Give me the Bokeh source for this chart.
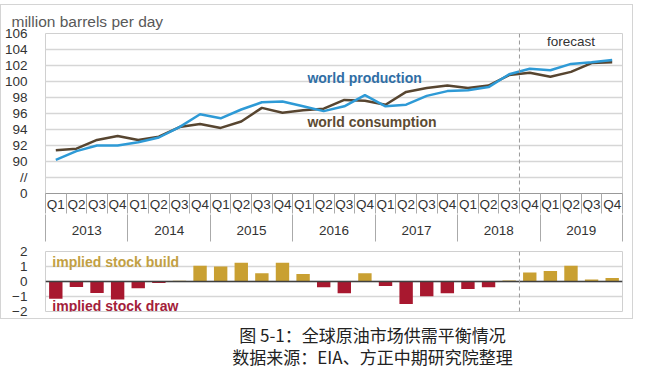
from bokeh.plotting import figure
from bokeh.models import Range1d, FixedTicker, LinearAxis, Span, ColumnDataSource, Label
from bokeh.layouts import column
from bokeh.embed import file_html
from bokeh.resources import INLINE

# ---------------- data ----------------
years = ["2013", "2014", "2015", "2016", "2017", "2018", "2019"]
quarters = ["Q1", "Q2", "Q3", "Q4"]
forecast_start = ("2018", "Q4")

production = [90.2, 91.3, 92.0, 92.0, 92.4, 93.0, 94.3, 95.9,
              95.4, 96.5, 97.4, 97.5, 96.9, 96.3, 96.9, 98.3,
              96.9, 97.1, 98.2, 98.8, 98.9, 99.3, 100.9, 101.6,
              101.4, 102.2, 102.4, 102.7]
consumption = [91.4, 91.6, 92.7, 93.2, 92.7, 93.1, 94.3, 94.7,
               94.2, 95.0, 96.7, 96.1, 96.4, 96.6, 97.7, 97.6,
               97.1, 98.7, 99.2, 99.5, 99.2, 99.5, 100.8, 101.1,
               100.6, 101.2, 102.3, 102.4]
stock_change = [-1.15, -0.37, -0.77, -1.2, -0.45, -0.1, 0.05, 1.05,
                1.0, 1.25, 0.55, 1.25, 0.5, -0.38, -0.78, 0.55,
                -0.3, -1.5, -0.98, -0.78, -0.5, -0.38, 0.07, 0.6,
                0.7, 1.05, 0.13, 0.24]

y_tick_labels = ["0", "//", "90", "92", "94", "96", "98", "100", "102", "104", "106"]
bar_ticks = [-2, -1, 0, 1, 2]

unit_title = "million barrels per day"
caption1 = "图 5-1：全球原油市场供需平衡情况"
caption2 = "数据来源：EIA、方正中期研究院整理"

# ---------------- styles ----------------
FONT = "Liberation Sans"
BLUE = "#2E9AD6"
BROWN = "#574530"
GOLD = "#C9A032"
CRIMSON = "#A8182F"
GRID = "#d6d6d6"
TXT = "#333333"
BOX = "#d4d4d4"

periods = [(y, q) for y in years for q in quarters]
n = len(periods)
xc = [i + 0.5 for i in range(n)]
fc_idx = periods.index(forecast_start)

# ---------------- top chart ----------------
ybase = 86
ypos = [ybase + 2 * i for i in range(len(y_tick_labels))]

p = figure(width=631, height=239, x_range=Range1d(0, n), y_range=Range1d(ypos[0], ypos[-1]),
           output_backend="svg", toolbar_location=None, x_axis_location=None,
           min_border_left=34, min_border_right=10, min_border_top=28, min_border_bottom=51)
p.outline_line_color = "#d0d0d0"
p.xgrid.visible = False
yt = FixedTicker(ticks=ypos)
p.yaxis.ticker = yt
p.ygrid.ticker = yt
p.ygrid.grid_line_color = GRID
p.ygrid.grid_line_width = 1.5
p.yaxis.major_label_overrides = {v: t for v, t in zip(ypos, y_tick_labels)}
p.yaxis.axis_line_color = None
p.yaxis.major_tick_line_color = None
p.yaxis.minor_tick_line_color = None
p.yaxis.major_label_standoff = 12
p.yaxis.major_label_text_font = FONT
p.yaxis.major_label_text_font_size = "13.5px"
p.yaxis.major_label_text_color = TXT

p.title.text = unit_title
p.title.align = "left"
p.title.offset = -34
p.title.standoff = 8
p.title.text_font = FONT
p.title.text_font_size = "15.5px"
p.title.text_font_style = "normal"
p.title.text_color = "#595959"

ax_q = LinearAxis(ticker=FixedTicker(ticks=xc, minor_ticks=list(range(n + 1))),
                  major_label_overrides={c: pq[1] for c, pq in zip(xc, periods)})
ax_q.axis_line_color = "#999999"
ax_q.major_tick_line_color = None
ax_q.major_tick_out = 0
ax_q.major_tick_in = 0
ax_q.minor_tick_line_color = "#aaaaaa"
ax_q.minor_tick_out = 20
ax_q.minor_tick_in = 0
ax_q.major_label_standoff = -17
ax_q.major_label_text_font = FONT
ax_q.major_label_text_font_size = "13.5px"
ax_q.major_label_text_color = TXT
p.add_layout(ax_q, "below")

ycent = [4 * j + 2 for j in range(len(years))]
ax_y = LinearAxis(ticker=FixedTicker(ticks=ycent, minor_ticks=[4 * j for j in range(len(years) + 1)]),
                  major_label_overrides={c: y for c, y in zip(ycent, years)})
ax_y.axis_line_color = None
ax_y.major_tick_line_color = None
ax_y.major_tick_out = 0
ax_y.major_tick_in = 0
ax_y.minor_tick_line_color = "#aaaaaa"
ax_y.minor_tick_out = 27
ax_y.minor_tick_in = 0
ax_y.major_label_standoff = -16
ax_y.major_label_text_font = FONT
ax_y.major_label_text_font_size = "13.5px"
ax_y.major_label_text_color = TXT
p.add_layout(ax_y, "below")

p.add_layout(Span(location=fc_idx, dimension="height", line_color="#999999",
                  line_width=1, line_dash="4 3"))

src = ColumnDataSource(dict(x=xc, prod=production, cons=consumption))
p.line("x", "cons", source=src, line_color=BROWN, line_width=2.5)
p.line("x", "prod", source=src, line_color=BLUE, line_width=2.5)

p.add_layout(Label(x=12.71, y=100.5, text="world production", text_font=FONT,
                   text_font_size="14px", text_font_style="bold", text_color="#2F6EA5",
                   text_baseline="middle"))
p.add_layout(Label(x=12.71, y=95.0, text="world consumption", text_font=FONT,
                   text_font_size="14px", text_font_style="bold", text_color="#5C4B32",
                   text_baseline="middle"))
p.add_layout(Label(x=25.5, y=105.0, text="forecast", text_font=FONT,
                   text_font_size="13.5px", text_color=TXT, text_align="center",
                   text_baseline="middle"))

# ---------------- bottom chart ----------------
b = figure(width=631, height=74, x_range=Range1d(0, n), y_range=Range1d(bar_ticks[0], bar_ticks[-1]),
           output_backend="svg", toolbar_location=None, x_axis_location=None,
           min_border_left=34, min_border_right=10, min_border_top=7, min_border_bottom=7)
b.outline_line_color = "#d0d0d0"
b.xgrid.visible = False
bt = FixedTicker(ticks=bar_ticks)
b.yaxis.ticker = bt
b.ygrid.ticker = bt
b.ygrid.grid_line_color = GRID
b.ygrid.grid_line_width = 1.5
b.yaxis.axis_line_color = None
b.yaxis.major_tick_line_color = None
b.yaxis.minor_tick_line_color = None
b.yaxis.major_label_standoff = 12
b.yaxis.major_label_text_font = FONT
b.yaxis.major_label_text_font_size = "13.5px"
b.yaxis.major_label_text_color = TXT

bsrc = ColumnDataSource(dict(x=xc, v=stock_change,
                             c=[GOLD if v >= 0 else CRIMSON for v in stock_change]))
b.vbar(x="x", top="v", bottom=0, width=0.65, fill_color="c", line_color=None, source=bsrc)
b.add_layout(Span(location=0, dimension="width", line_color="#404040", line_width=1.5))
b.add_layout(Span(location=fc_idx, dimension="height", line_color="#999999",
                  line_width=1, line_dash="4 3"))
b.add_layout(Label(x=0.33, y=1.27, text="implied stock  build", text_font=FONT,
                   text_font_size="14px", text_font_style="bold", text_color="#C2A043",
                   text_baseline="middle"))
b.add_layout(Label(x=0.33, y=-1.6, text="implied stock draw", text_font=FONT,
                   text_font_size="14px", text_font_style="bold", text_color="#A3203A",
                   text_baseline="middle"))

# ---------------- caption ----------------
c = figure(width=631, height=50, x_range=Range1d(0, 631), y_range=Range1d(50, 0),
           output_backend="svg", toolbar_location=None, min_border=0,
           x_axis_location=None, y_axis_location=None)
c.grid.visible = False
c.outline_line_color = None
c.add_layout(Label(x=372, y=15, text=caption1, text_font="Noto Sans CJK SC",
                   text_font_size="17px", text_color="#222222", text_align="center",
                   text_baseline="middle"))
c.add_layout(Label(x=372, y=37, text=caption2, text_font="Noto Sans CJK SC",
                   text_font_size="17px", text_color="#222222", text_align="center",
                   text_baseline="middle"))

charts = column(p, b, styles={"border": "1px solid " + BOX, "margin-top": "4px"})
layout = column(charts, c)

open("out.html", "w").write(file_html(layout, INLINE))
